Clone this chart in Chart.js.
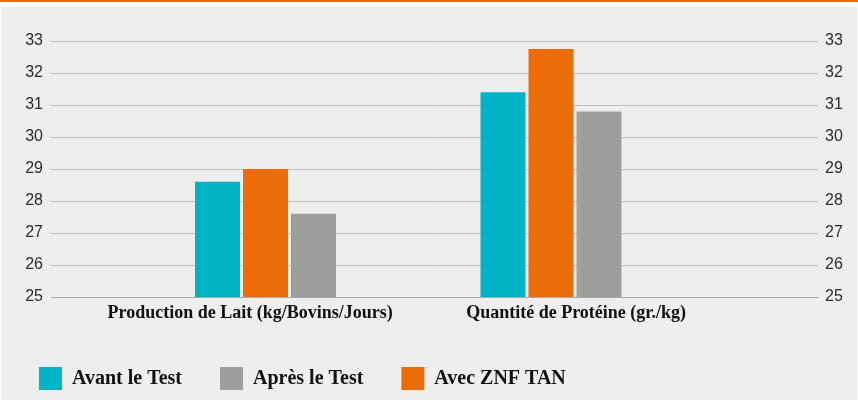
<!DOCTYPE html>
<html lang="fr">
<head>
<meta charset="utf-8">
<title>Production de lait et protéine</title>
<script src="https://cdn.jsdelivr.net/npm/chart.js@4/dist/chart.umd.min.js"></script>
<style>
  html, body { margin: 0; padding: 0; background: #fff; }
  body { width: 858px; height: 400px; position: relative; overflow: hidden; }
  .topline { position: absolute; left: 0; top: 0; width: 858px; height: 2px; background: #ec6c08; }
  .panel { position: absolute; left: 1px; top: 7px; width: 856px; height: 393px; background: #eeeeee; }
</style>
</head>
<body>
<div class="topline"></div>
<div class="panel"><canvas id="chart" width="856" height="393"></canvas></div>
<script>
// Values (axis 25–33).
const categories = ['Production de Lait (kg/Bovins/Jours)', 'Quantité de Protéine (gr./kg)'];
const avantTest = [28.6, 31.4];
const avecZnf = [29.0, 32.75];
const apresTest = [27.6, 30.8];
const yTicks = [25, 26, 27, 28, 29, 30, 31, 32, 33];
const legendOrder = ['Avant le Test', 'Après le Test', 'Avec ZNF TAN'];

// The category captions sit a little off the bar groups in the original.
const labelAt = [-0.054, 1.088];

const CYAN = '#00b4c5';
const ORANGE = '#ec6c08';
const GRAY = '#9e9e9c';

const points = (vals) => vals.map((v, i) => ({ x: i, y: v }));

const series = [
  { label: 'Avant le Test', data: points(avantTest), backgroundColor: CYAN },
  { label: 'Avec ZNF TAN', data: points(avecZnf), backgroundColor: ORANGE },
  { label: 'Après le Test', data: points(apresTest), backgroundColor: GRAY },
];

const tickFont = { family: 'Liberation Sans', size: 16 };
const yMin = yTicks[0];
const yMax = yTicks[yTicks.length - 1];
const legendPad = 38;

new Chart(document.getElementById('chart'), {
  type: 'bar',
  data: {
    datasets: series.map((s) => ({
      ...s,
      borderWidth: 0,
      categoryPercentage: 0.5044,
      barPercentage: 0.9375,
    })),
  },
  options: {
    responsive: false,
    animation: false,
    events: [],
    layout: { padding: { top: 34, left: 0, right: 0, bottom: 0 } },
    scales: {
      x: {
        type: 'linear',
        min: -0.7513,
        max: 1.9352,
        offset: false,
        bounds: 'data',
        grid: { display: false, drawTicks: false, offset: false },
        border: { display: true, color: '#a9a9a9', width: 1 },
        afterBuildTicks: (scale) => {
          scale.ticks = labelAt.map((v) => ({ value: v }));
        },
        // bottom strip = axis captions + legend (23 box + padding + 10)
        afterFit: (scale) => { scale.height = 103 - (33 + legendPad); },
        ticks: {
          autoSkip: false,
          maxRotation: 0,
          padding: 6,
          color: '#111',
          font: { family: 'Liberation Serif', size: 18, weight: 'bold' },
          callback: (value, index) => categories[index],
        },
      },
      y: {
        position: 'left',
        min: yMin,
        max: yMax,
        afterBuildTicks: (scale) => { scale.ticks = yTicks.map((v) => ({ value: v })); },
        afterFit: (scale) => { scale.width = 50; },
        grid: { color: '#c0c0c0', lineWidth: 1, drawTicks: false },
        border: { display: false },
        ticks: { padding: 8, color: '#2b2b2b', font: tickFont },
      },
      y2: {
        position: 'right',
        min: yMin,
        max: yMax,
        afterBuildTicks: (scale) => { scale.ticks = yTicks.map((v) => ({ value: v })); },
        afterFit: (scale) => { scale.width = 39; },
        grid: { display: false, drawTicks: false },
        border: { display: false },
        ticks: { padding: 7, color: '#2b2b2b', font: tickFont },
      },
    },
    plugins: {
      tooltip: { enabled: false },
      legend: {
        position: 'bottom',
        align: 'start',
        labels: {
          boxWidth: 23,
          boxHeight: 23,
          padding: legendPad,
          color: '#111',
          font: { family: 'Liberation Serif', size: 20, weight: 'bold' },
          sort: (a, b) => legendOrder.indexOf(a.text) - legendOrder.indexOf(b.text),
        },
      },
    },
  },
});
</script>
</body>
</html>
